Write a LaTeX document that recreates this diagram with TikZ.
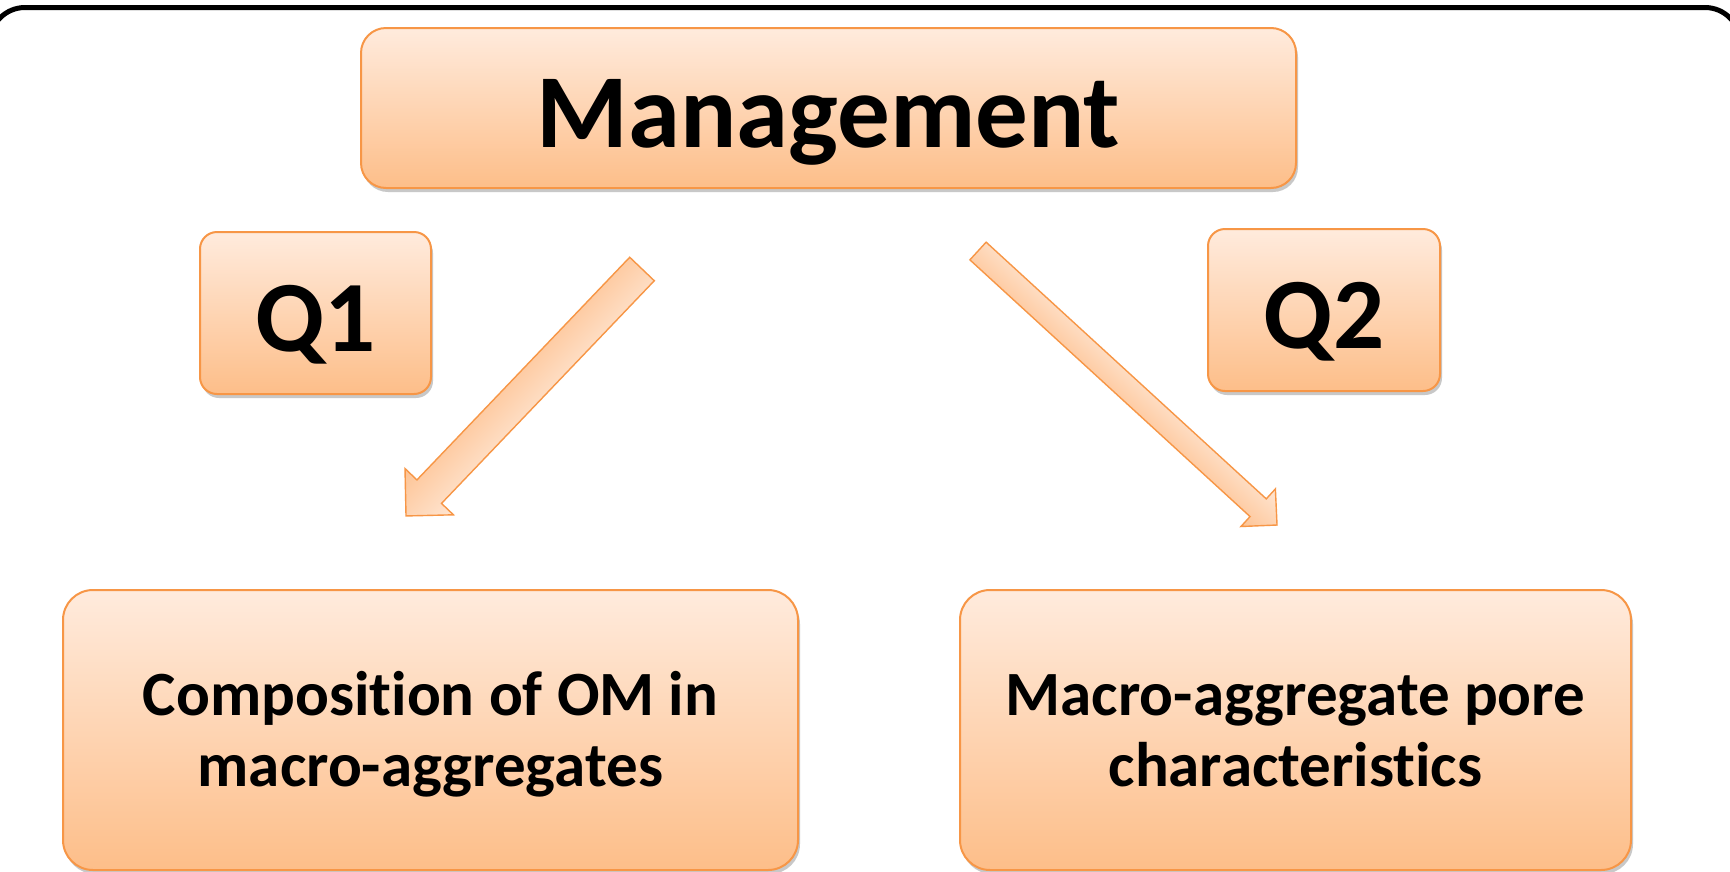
\documentclass[tikz,border=0pt]{standalone}
\usepackage{fontspec}
\setmainfont{Carlito}[Ligatures=NoCommon]
\usetikzlibrary{shadows}
\definecolor{ltop}{HTML}{FFEBDD}
\definecolor{lbot}{HTML}{FDBE89}
\definecolor{obord}{HTML}{F79646}
\definecolor{alight}{HTML}{FFE6D3}
\definecolor{adark}{HTML}{FDC394}
\begin{document}
\begin{tikzpicture}[x=1pt,y=-1pt,
  box/.style={draw=obord, line width=2pt, rounded corners=#1,
    top color=ltop, bottom color=lbot, align=center, inner sep=0pt,
    drop shadow={shadow xshift=2pt, shadow yshift=-4pt, opacity=0.3, fill=black!70}},
  blockarrow/.style={draw=obord, line width=1.4pt, line join=miter,
    top color=alight, bottom color=adark}]
\useasboundingbox (0,0) rectangle (1730,871);
\clip (0,0) rectangle (1730,871);
\fill[white] (0,0) rectangle (1730,871);
% outer frame
\draw[line width=5pt, rounded corners=35] (-10,7.5) rectangle (1740,930);
% boxes
\node[box=25, minimum width=935, minimum height=160, text height=78pt, text depth=0pt,
  font=\bfseries\fontsize{105}{110}\selectfont] (mgmt) at (828.5,108) {Management};
\node[box=17, minimum width=231, minimum height=162, text height=76pt, text depth=0pt,
  font=\bfseries\fontsize{101}{106}\selectfont] (q1) at (315.5,313) {Q1};
\node[box=17, minimum width=232, minimum height=162, text height=76pt, text depth=0pt,
  font=\bfseries\fontsize{101}{106}\selectfont] (q2) at (1324,310) {Q2};
\node[box=30, minimum width=735, minimum height=280, text height=112pt, text depth=0pt,
  font=\bfseries\fontsize{63}{71}\selectfont] (c1) at (430.5,730)
  {Composition of OM in\\macro-aggregates};
\node[box=30, minimum width=671, minimum height=280, text height=112pt, text depth=0pt,
  font=\bfseries\fontsize{63}{71}\selectfont] (c2) at (1295.5,730)
  {Macro-aggregate pore\\characteristics};
% block arrows
\begin{scope}[transform canvas={shift={(642,269)}, rotate=226.3}]
  \path[blockarrow] (0,-17) -- (308,-17) -- (308,-33.5) -- (341.6,0)
    -- (308,33.5) -- (308,17) -- (0,17) -- cycle;
\end{scope}
\begin{scope}[transform canvas={shift={(978,251)}, rotate=-42.5}]
  \path[blockarrow] (0,-12) -- (380,-12) -- (380,-25.5) -- (405.6,0)
    -- (380,25.5) -- (380,12) -- (0,12) -- cycle;
\end{scope}
\end{tikzpicture}
\end{document}
